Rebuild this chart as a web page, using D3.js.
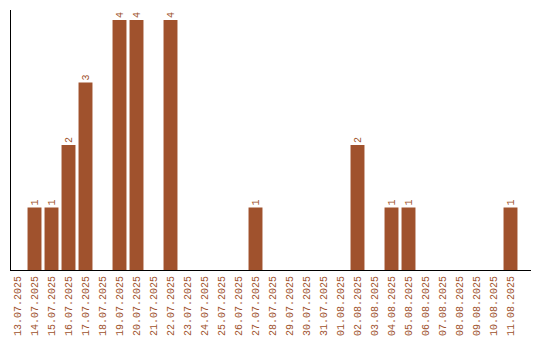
<!DOCTYPE html>
<html lang="en">
<head>
<meta charset="UTF-8">
<script src="https://d3js.org/d3.v7.min.js"></script>
<style>
  body { margin: 0; background: #fff; }
  text { font-family: "Liberation Mono", "Courier New", monospace; font-size: 10px; fill: #a0522d; }
</style>
</head>
<body>
<svg id="chart" width="540" height="340"></svg>
<script>
const dates = ["13.07.2025","14.07.2025","15.07.2025","16.07.2025","17.07.2025","18.07.2025",
  "19.07.2025","20.07.2025","21.07.2025","22.07.2025","23.07.2025","24.07.2025","25.07.2025",
  "26.07.2025","27.07.2025","28.07.2025","29.07.2025","30.07.2025","31.07.2025","01.08.2025",
  "02.08.2025","03.08.2025","04.08.2025","05.08.2025","06.08.2025","07.08.2025","08.08.2025",
  "09.08.2025","10.08.2025","11.08.2025"];
const counts = [0,1,1,2,3,0,4,4,0,4,0,0,0,0,1,0,0,0,0,0,2,0,1,1,0,0,0,0,0,1];

const svg = d3.select("#chart");
const x = d3.scaleBand().domain(dates).range([9, 519]).paddingInner(0.18).paddingOuter(0.09);
const y = d3.scaleLinear().domain([0, 4]).range([270, 20]);

// bars
svg.selectAll("rect.bar")
  .data(dates)
  .enter().append("rect")
    .attr("class", "bar")
    .attr("x", d => x(d))
    .attr("width", x.bandwidth())
    .attr("y", (d, i) => y(counts[i]))
    .attr("height", (d, i) => y(0) - y(counts[i]))
    .attr("fill", "#a0522d");

// value labels
svg.selectAll("text.val")
  .data(dates.filter((d, i) => counts[i] > 0))
  .enter().append("text")
    .attr("class", "val")
    .attr("transform", d => `translate(${x(d) + x.bandwidth() / 2 + 3.5},${y(counts[dates.indexOf(d)]) - 2}) rotate(-90)`)
    .attr("text-anchor", "start")
    .text(d => counts[dates.indexOf(d)]);

// axes lines
svg.append("line").attr("x1", 10.5).attr("x2", 10.5).attr("y1", 10).attr("y2", 270).attr("stroke", "#000");
svg.append("line").attr("x1", 10).attr("x2", 531).attr("y1", 270.5).attr("y2", 270.5).attr("stroke", "#000");

// tick labels
svg.selectAll("text.tick")
  .data(dates)
  .enter().append("text")
    .attr("class", "tick")
    .attr("transform", d => `translate(${x(d) + x.bandwidth() / 2 + 3.5},276) rotate(-90)`)
    .attr("text-anchor", "end")
    .text(d => d);
</script>
</body>
</html>
